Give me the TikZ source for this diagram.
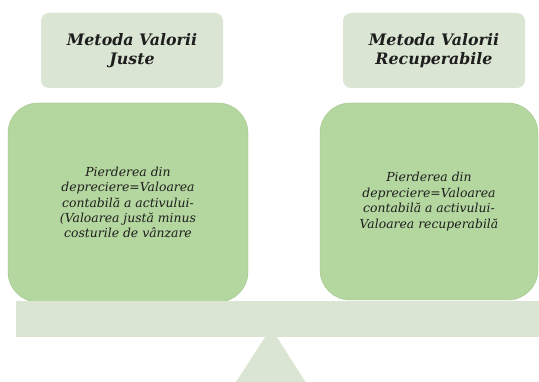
\documentclass[tikz,border=0pt]{standalone}
\usepackage{fontspec}
\newfontfamily\boxfont{DejaVu Serif}
\definecolor{lightgr}{RGB}{218,230,211}
\definecolor{midgr}{RGB}{180,214,159}
\definecolor{edgegr}{RGB}{160,198,138}
\definecolor{inkc}{RGB}{30,30,30}
\begin{document}
\begin{tikzpicture}[x=1pt,y=-1pt,
  titlebox/.style={fill=lightgr, rounded corners=8pt, align=center, inner sep=0pt, text=inkc,
    font=\boxfont\fontsize{15.8}{18.5}\selectfont\bfseries\itshape},
  bodybox/.style={fill=midgr, draw=edgegr, line width=0.4pt, rounded corners=30pt, align=center, inner sep=0pt, text=inkc,
    font=\boxfont\fontsize{12.4}{15.4}\selectfont\itshape},
  beam/.style={fill=lightgr, draw=none},
]
\useasboundingbox (0,0) rectangle (539,382);
\fill[white] (0,0) rectangle (539,382);
% fulcrum
\fill[beam] (271,328) -- (305.5,382) -- (236,382) -- cycle;
% boxes
\node[titlebox, minimum width=182pt, minimum height=75pt] (t1) at (132,50.5) {Metoda Valorii\\Juste};
\node[titlebox, minimum width=182pt, minimum height=75pt] (t2) at (434,50.5) {Metoda Valorii\\Recuperabile};
\node[bodybox, minimum width=240pt, minimum height=199pt] (b1) at (128,202.5)
  {Pierderea din\\depreciere=Valoarea\\contabilă a activului-\\(Valoarea justă minus\\costurile de vânzare};
\node[bodybox, minimum width=218pt, minimum height=197pt] (b2) at (429,201.5)
  {Pierderea din\\depreciere=Valoarea\\contabilă a activului-\\Valoarea recuperabilă};
% beam
\fill[beam] (16,301) rectangle (539,337);
\end{tikzpicture}
\end{document}
